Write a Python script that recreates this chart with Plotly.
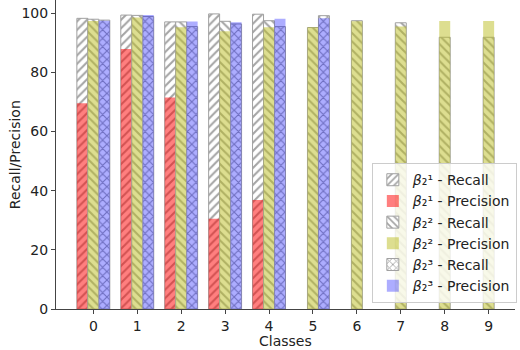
import plotly.graph_objects as go

classes = [0, 1, 2, 3, 4, 5, 6, 7, 8, 9]

# beta_2^1
b1_classes = [0, 1, 2, 3, 4]
b1_recall = [98.3, 99.4, 97.1, 99.8, 99.7]
b1_precision = [69.6, 87.9, 71.5, 30.5, 36.9]

# beta_2^2
b2_classes = [0, 1, 2, 3, 4, 5, 6, 7, 8, 9]
b2_recall = [98.0, 99.3, 97.1, 97.3, 97.5, 95.2, 97.5, 96.8, 91.9, 91.9]
b2_precision = [97.4, 98.6, 95.3, 93.9, 95.3, 95.3, 97.3, 95.5, 97.4, 97.4]

# beta_2^3
b3_classes = [0, 1, 2, 3, 4, 5]
b3_recall = [97.7, 98.9, 95.5, 96.4, 95.5, 99.2]
b3_precision = [97.5, 99.4, 97.2, 97.0, 98.2, 98.3]

y_ticks = [0, 20, 40, 60, 80, 100]
y_title = "Recall/Precision"
x_title = "Classes"

W = 0.25
HATCH = "#4a4a4a"
FONT = "DejaVu Sans"

groups = [
    ("¹", b1_classes, b1_recall, b1_precision, "/", "rgba(255,0,0,0.5)", -0.375),
    ("²", b2_classes, b2_recall, b2_precision, "\\", "rgba(188,189,34,0.5)", -0.125),
    ("³", b3_classes, b3_recall, b3_precision, "x", "rgba(0,0,255,0.32)", 0.125),
]

fig = go.Figure()
for sup, xs, rec, prec, shape, col, off in groups:
    lab = "<i>β</i>₂%s - " % sup
    fig.add_trace(go.Bar(
        x=xs, y=rec, width=W, offset=off, name=lab + "Recall",
        marker=dict(color="white",
                    line=dict(color="#a0a0a0", width=1),
                    pattern=dict(shape=shape, fgcolor=HATCH, bgcolor="white",
                                 size=6, solidity=0.35)),
    ))
    fig.add_trace(go.Bar(
        x=xs, y=prec, width=W, offset=off, name=lab + "Precision",
        marker=dict(color=col, line=dict(width=0)),
    ))

fig.update_layout(
    width=520, height=350,
    barmode="overlay",
    plot_bgcolor="white", paper_bgcolor="white",
    margin=dict(l=56, r=5, t=0, b=41),
    font=dict(family=FONT, size=14, color="#222"),
    showlegend=True,
    legend=dict(x=1.004, y=0.019, xanchor="right", yanchor="bottom",
                bgcolor="rgba(255,255,255,0.8)", bordercolor="#cccccc",
                borderwidth=1, font=dict(size=14), tracegroupgap=0,
                itemwidth=30),
    xaxis=dict(range=[-0.85, 9.6], tickmode="array", tickvals=classes,
               ticktext=[str(c) for c in classes], automargin=False,
               showgrid=False, zeroline=False, showline=True,
               linecolor="#444", linewidth=1, ticks="outside", ticklen=4,
               tickcolor="#444", tickfont=dict(size=14)),
    yaxis=dict(range=[0, 104.5], tickvals=y_ticks, automargin=False,
               showgrid=False, zeroline=False, showline=True,
               linecolor="#444", linewidth=1, ticks="outside", ticklen=4,
               tickcolor="#444", tickfont=dict(size=14)),
    annotations=[
        dict(text=x_title, xref="paper", yref="paper", x=0.5, y=-0.072,
             xanchor="center", yanchor="top", showarrow=False,
             font=dict(size=14, family=FONT, color="#222")),
        dict(text=y_title, xref="paper", yref="paper", x=-0.09, y=0.5,
             xanchor="center", yanchor="middle", textangle=-90, showarrow=False,
             font=dict(size=14, family=FONT, color="#222")),
    ],
)

fig.write_html("out.html", config={"displayModeBar": False},
               post_script="document.body.style.margin='0';")
